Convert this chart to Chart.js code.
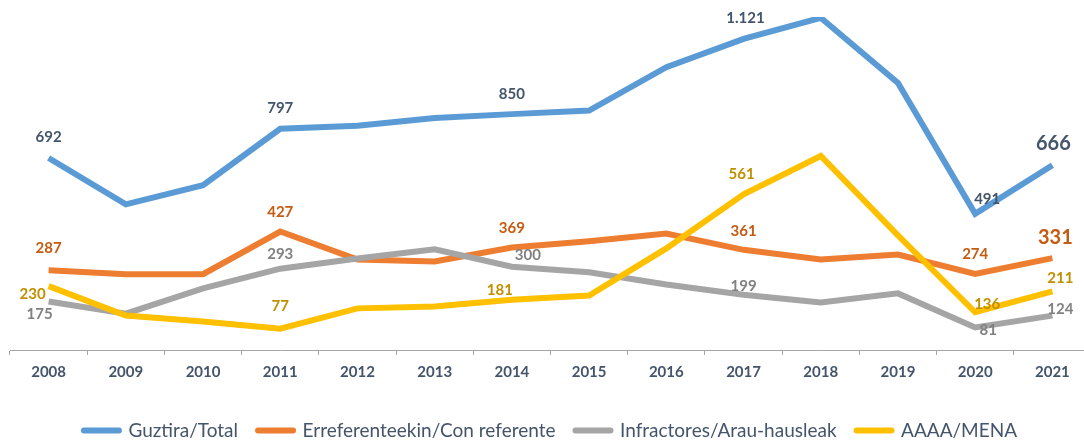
<!DOCTYPE html>
<html>
<head>
<meta charset="utf-8">
<script src="https://cdn.jsdelivr.net/npm/chart.js@4.4.1/dist/chart.umd.min.js"></script>
<style>
  html, body { margin: 0; padding: 0; background: #fff; overflow: hidden; }
  #wrap { width: 1092px; height: 446px; position: relative; }
</style>
</head>
<body>
<div id="wrap"><canvas id="grafik"></canvas></div>
<script>
// --- DATOS ---
const urteak = ['2008','2009','2010','2011','2012','2013','2014','2015','2016','2017','2018','2019','2020','2021'];
const guztira      = [692, 525, 594, 797, 808, 836, 850, 863, 1019, 1121, 1197, 962, 491, 666];
const erreferente  = [287, 273, 273, 427, 326, 319, 369, 392, 420, 361, 326, 344, 274, 331];
const infractores  = [175, 131, 222, 293, 330, 363, 300, 280, 236, 199, 171, 204, 81, 124];
const mena         = [230, 124, 103, 77, 150, 157, 181, 196, 366, 561, 699, 413, 136, 211];

// which points carry a value label (index in urteak)
const etiketakGuztira = [0, 3, 6, 9, 12, 13];
const etiketakErref   = [0, 3, 6, 9, 12, 13];
const etiketakInfr    = [0, 3, 6, 9, 12, 13];
const etiketakMena    = [0, 3, 6, 9, 12, 13];

Chart.defaults.font.family = "'Lato', sans-serif";
Chart.defaults.color = '#44546A';

// label placement (offset from the point) and look, per series
const etiketaEstiloa = [
    { color: '#44546A', off: { 0: [0, -21], 3: [0, -21], 6: [0, -20], 9: [2, -21], 12: [12, -15], 13: [1, -22, 20] } },
    { color: '#C55A11', off: { 0: [0, -22], 3: [0, -19], 6: [0, -19], 9: [0, -19], 12: [0, -20], 13: [3, -21, 20] } },
    { color: '#808080', off: { 0: [-9, 13], 3: [0, -15], 6: [16, -12], 9: [0, -9], 12: [13, 3], 13: [8, -6] } },
    { color: '#BF9000', off: { 0: [-16, 8], 3: [0, -22], 6: [-12, -10], 9: [-2, -20], 12: [12, -8], 13: [8, -13] } }
];

function formatua(v) {
    return v.toString().replace(/\B(?=(\d{3})+(?!\d))/g, '.');
}

const balioEtiketak = {
    id: 'balioEtiketak',
    afterDatasetsDraw(chart) {
        const ctx = chart.ctx;
        const zerrendak = [etiketakGuztira, etiketakErref, etiketakInfr, etiketakMena];
        chart.data.datasets.forEach((ds, di) => {
            const meta = chart.getDatasetMeta(di);
            const est = etiketaEstiloa[di];
            zerrendak[di].forEach(i => {
                const p = meta.data[i];
                const o = est.off[i] || [0, -20];
                const size = o[2] || 15;
                ctx.save();
                ctx.font = 'bold ' + size + "px 'Lato', sans-serif";
                ctx.fillStyle = est.color;
                ctx.textAlign = 'center';
                ctx.textBaseline = 'middle';
                ctx.fillText(formatua(ds.data[i]), p.x + o[0], p.y + o[1]);
                ctx.restore();
            });
        });
    }
};

function lerroa(label, data, kolorea, order) {
    return {
        label, data, order,
        borderColor: kolorea,
        backgroundColor: kolorea,
        borderWidth: 6,
        pointRadius: 0,
        tension: 0,
        fill: false
    };
}

new Chart(document.getElementById('grafik'), {
    type: 'line',
    data: {
        labels: urteak,
        datasets: [
            lerroa('Guztira/Total', guztira, '#5B9BD5', 4),
            lerroa('Erreferenteekin/Con referente', erreferente, '#ED7D31', 3),
            lerroa('Infractores/Arau-hausleak', infractores, '#A5A5A5', 2),
            lerroa('AAAA/MENA', mena, '#FFC000', 1)
        ]
    },
    options: {
        responsive: true,
        maintainAspectRatio: false,
        animation: false,
        layout: { padding: { left: 10, right: 1, top: 17, bottom: -4 } },
        scales: {
            x: {
                offset: true,
                grid: { offset: true, drawOnChartArea: false, drawTicks: true, tickLength: 5, color: '#A6A6A6' },
                border: { color: '#A6A6A6', width: 1 },
                ticks: { padding: 8, color: '#44546A', font: { size: 15, weight: 'bold' }, maxRotation: 0 },
                afterFit(scale) { scale.height += 12; }
            },
            y: { display: false, min: 0, max: 1200 }
        },
        plugins: {
            tooltip: { enabled: false },
            legend: {
                position: 'bottom',
                labels: {
                    usePointStyle: true,
                    pointStyle: 'line',
                    pointStyleWidth: 35,
                    padding: 20,
                    color: '#44546A',
                    font: { size: 19 },
                    sort: (a, b) => a.datasetIndex - b.datasetIndex,
                    generateLabels(chart) {
                        const items = Chart.defaults.plugins.legend.labels.generateLabels(chart);
                        items.forEach(it => { it.lineCap = 'round'; it.lineWidth = 6; });
                        return items;
                    }
                }
            }
        }
    },
    plugins: [balioEtiketak]
});
</script>
</body>
</html>
